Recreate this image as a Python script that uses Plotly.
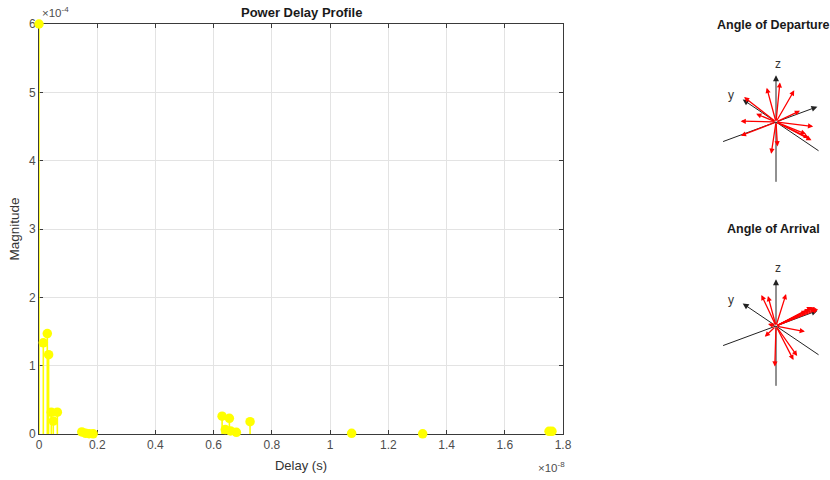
import plotly.graph_objects as go

# ---- Power delay profile data ----
delays_s = [0.0, 0.0148e-8, 0.0285e-8, 0.033e-8, 0.0422e-8, 0.049e-8, 0.063e-8,
            0.147e-8, 0.16e-8, 0.172e-8, 0.186e-8,
            0.629e-8, 0.64e-8, 0.654e-8, 0.658e-8, 0.678e-8, 0.725e-8,
            1.074e-8, 1.318e-8, 1.752e-8, 1.762e-8]
magnitudes = [6.0e-4, 1.335e-4, 1.47e-4, 1.16e-4, 0.32e-4, 0.19e-4, 0.32e-4,
              0.03e-4, 0.01e-4, 0.004e-4, 0.003e-4,
              0.26e-4, 0.065e-4, 0.23e-4, 0.045e-4, 0.025e-4, 0.18e-4,
              0.01e-4, 0.003e-4, 0.04e-4, 0.04e-4]
x_ticks = [0, 0.2, 0.4, 0.6, 0.8, 1.0, 1.2, 1.4, 1.6, 1.8]
x_tick_labels = ["0", "0.2", "0.4", "0.6", "0.8", "1", "1.2", "1.4", "1.6", "1.8"]
y_ticks = [0, 1, 2, 3, 4, 5, 6]

# ---- Ray direction vectors (x, y, z) ----
aod_x = [0.04, 0.23, 0.59, 0.07, -0.48, 0.43, 0.12, 0.13, 0.17, -0.78, -0.08, 0.00, 0.57, -0.11]
aod_y = [0.30, 0.18, 0.24, 0.95, 0.36, -0.47, -0.81, -0.73, -0.60, -0.02, 0.03, -0.04, 0.06, 0.40]
aod_z = [0.50, 0.60, 0.30, 0.00, 0.00, 0.00, 0.00, 0.00, 0.00, 0.00, -0.60, -0.45, 0.00, 0.00]

aoa_x = [-0.10, -0.03, 0.21, 0.94, 0.94, 0.94, 0.85, 0.83, 0.75, 0.29, -0.38, -0.03, 0.05, -0.05, -0.07]
aoa_y = [0.27, 0.18, -0.01, 0.03, 0.07, 0.11, 0.08, 0.11, 0.10, -0.42, -0.17, -0.51, -0.51, -0.03, 0.13]
aoa_z = [0.50, 0.50, 0.55, 0.00, 0.00, 0.00, 0.05, 0.00, 0.00, 0.00, 0.00, -0.40, -0.35, -0.75, 0.00]

SX = 1e8
SY = 1e4

fig = go.Figure()

# stems
sx, sy = [], []
for d, m in zip(delays_s, magnitudes):
    sx += [d * SX, d * SX, None]
    sy += [0, m * SY, None]
fig.add_trace(go.Scatter(x=sx, y=sy, mode="lines", line=dict(color="#FFFF00", width=1.6),
                         hoverinfo="skip", showlegend=False, cliponaxis=False))
fig.add_trace(go.Scatter(x=[d * SX for d in delays_s], y=[m * SY for m in magnitudes],
                         mode="markers", marker=dict(color="#FFFF00", size=9.5,
                                                     line=dict(color="#FFFF00", width=0)),
                         showlegend=False, cliponaxis=False))

font_main = "Liberation Sans, Arial, sans-serif"
axis_col = "#3a3a3a"

fig.update_layout(
    width=830, height=480, margin=dict(l=0, r=0, t=0, b=0),
    paper_bgcolor="white", plot_bgcolor="white",
    font=dict(family=font_main, color="#4d4d4d", size=11),
    xaxis=dict(domain=[39 / 830, 563 / 830], range=[0, 1.8], tickvals=x_ticks,
               ticktext=x_tick_labels, showgrid=True, gridcolor="#e3e3e3", gridwidth=1,
               zeroline=False, showline=True, mirror="ticks", linecolor=axis_col, linewidth=1,
               ticks="inside", ticklen=4, tickcolor=axis_col, automargin=False,
               layer="below traces", tickfont=dict(size=12),
               title=dict(text="Delay (s)", font=dict(size=13, color="#333333"), standoff=9)),
    yaxis=dict(domain=[1 - 434 / 480, 1 - 24 / 480], range=[0, 6], tickvals=y_ticks,
               showgrid=True, gridcolor="#e3e3e3", gridwidth=1,
               zeroline=False, showline=True, mirror="ticks", linecolor=axis_col, linewidth=1,
               ticks="inside", ticklen=4, tickcolor=axis_col, automargin=False,
               layer="below traces", tickfont=dict(size=12),
               title=dict(text="Magnitude", font=dict(size=13.5, color="#333333"), standoff=6)),
)

annotations = [
    dict(text="<b>Power Delay Profile</b>", x=301 / 830, y=1 - 12 / 480, xref="paper", yref="paper",
         showarrow=False, font=dict(size=13, color="#1a1a1a"), xanchor="center", yanchor="middle"),
    dict(text="×10<sup>-4</sup>", x=40 / 830, y=1 - 21 / 480, xref="paper", yref="paper",
         showarrow=False, font=dict(size=11.5, color="#4d4d4d"), xanchor="left", yanchor="bottom"),
    dict(text="×10<sup>-8</sup>", x=567 / 830, y=1 - 476 / 480, xref="paper", yref="paper",
         showarrow=False, font=dict(size=11.5, color="#4d4d4d"), xanchor="right", yanchor="bottom"),
]

# projection of 3D directions to screen px offsets
EX = (46.0, 17.0)
EY = (-37.0, 25.0)
EZ = (0.0, 52.0)


def proj(x, y, z):
    return (x * EX[0] + y * EY[0] + z * EZ[0], x * EX[1] + y * EY[1] + z * EZ[1])


panels = [
    ("x2", "y2", 122, "Angle of Departure", 25, aod_x, aod_y, aod_z),
    ("x3", "y3", 326, "Angle of Arrival", 229, aoa_x, aoa_y, aoa_z),
]

for xa, ya, cy, title, ty, vx, vy, vz in panels:
    xkey = "xaxis" + xa[1:]
    ykey = "yaxis" + ya[1:]
    top, bot = cy - 72, cy + 72
    fig.update_layout(**{
        xkey: dict(domain=[700 / 830, 1.0], range=[700 - 776, 830 - 776], visible=False,
                   fixedrange=True, anchor=ya, automargin=False),
        ykey: dict(domain=[1 - bot / 480, 1 - top / 480], range=[cy - bot, cy - top],
                   visible=False, fixedrange=True, anchor=xa, automargin=False),
    })
    # black axes: negative part as line, positive part as arrow
    for e in [(1, 0, 0), (0, 1, 0), (0, 0, 1)]:
        n = proj(-1.15 * e[0], -1.15 * e[1], -1.15 * e[2])
        p = proj(0.9 * e[0], 0.9 * e[1], 0.9 * e[2])
        fig.add_trace(go.Scatter(x=[n[0], 0], y=[n[1], 0], xaxis=xa, yaxis=ya, mode="lines",
                                 line=dict(color="#222222", width=1), showlegend=False,
                                 hoverinfo="skip"))
        annotations.append(dict(x=p[0], y=p[1], ax=0, ay=0, xref=xa, yref=ya, axref=xa, ayref=ya,
                                text="", showarrow=True, arrowhead=2, arrowsize=1.2,
                                arrowwidth=1, arrowcolor="#222222", standoff=0, startstandoff=0))
    lz = proj(0, 0, 1.15)
    ly = proj(0, 1.1, 0)
    annotations.append(dict(x=lz[0] + 2, y=lz[1] - 2, xref=xa, yref=ya, text="z", showarrow=False,
                            font=dict(size=12, color="#333333")))
    annotations.append(dict(x=ly[0] - 4, y=ly[1] - 1, xref=xa, yref=ya, text="y", showarrow=False,
                            font=dict(size=12, color="#333333")))
    # red rays
    for a, b, c in zip(vx, vy, vz):
        t = proj(a, b, c)
        annotations.append(dict(x=t[0], y=t[1], ax=0, ay=0, xref=xa, yref=ya, axref=xa, ayref=ya,
                                text="", showarrow=True, arrowhead=2, arrowsize=0.8,
                                arrowwidth=1.3, arrowcolor="#ff0000", standoff=0, startstandoff=0))
    annotations.append(dict(text="<b>" + title + "</b>", x=773 / 830, y=1 - ty / 480,
                            xref="paper", yref="paper", showarrow=False,
                            font=dict(size=12.5, color="#1a1a1a"), xanchor="center",
                            yanchor="middle"))

fig.update_layout(annotations=annotations)
fig.write_html("out.html", config={"displayModeBar": False},
               post_script="document.body.style.margin='0';document.body.style.overflow='hidden';")
